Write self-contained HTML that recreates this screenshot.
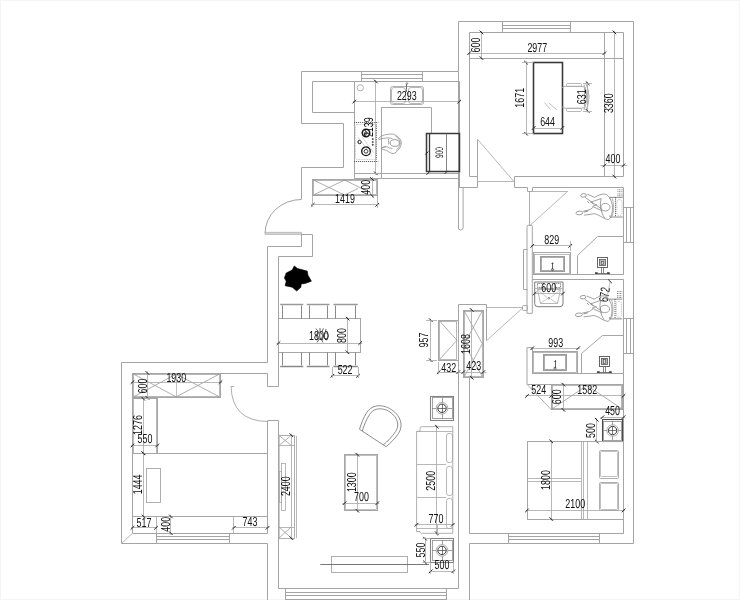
<!DOCTYPE html>
<html><head><meta charset="utf-8"><title>Floor plan</title>
<style>
html,body{margin:0;padding:0;background:#fff;}
body{width:740px;height:600px;overflow:hidden;}
svg{display:block;font-family:"Liberation Sans",sans-serif;filter:grayscale(1);}
text{text-rendering:geometricPrecision;}
</style></head><body>
<svg width="740" height="600" viewBox="0 0 740 600" shape-rendering="geometricPrecision">
<rect x="0" y="0" width="740" height="600" fill="#fff"/>
<rect x="0.5" y="0.5" width="739" height="599" fill="none" stroke="#f4f4f4" stroke-width="1"/>
<polyline points="301.5,123.5 301.5,71.5 458.5,71.5 458.5,21.5 633.5,21.5 633.5,543.5 469.5,543.5 469.5,600.5" fill="none" stroke="#a4a4a4" stroke-width="1"/>
<polyline points="477.5,176.5 469.5,176.5 469.5,32.5 623.5,32.5 623.5,176.5 514.5,176.5 514.5,187.5 527.5,187.5 527.5,191.5 532.5,191.5 532.5,187.5 623.5,187.5 623.5,274.5" fill="none" stroke="#a4a4a4" stroke-width="1"/>
<line x1="502.7" y1="25.5" x2="570.3" y2="25.5" stroke="#a4a4a4" stroke-width="1"/>
<line x1="502.7" y1="28.5" x2="570.3" y2="28.5" stroke="#a4a4a4" stroke-width="1"/>
<line x1="502.5" y1="21.6" x2="502.5" y2="32.4" stroke="#a4a4a4" stroke-width="1"/>
<line x1="570.5" y1="21.6" x2="570.5" y2="32.4" stroke="#a4a4a4" stroke-width="1"/>
<line x1="469.2" y1="58.5" x2="623.8" y2="58.5" stroke="#a6a6a6" stroke-width="1"/>
<line x1="604.5" y1="32.4" x2="604.5" y2="176.6" stroke="#a6a6a6" stroke-width="1"/>
<line x1="467.7" y1="53.5" x2="605.9" y2="53.5" stroke="#a6a6a6" stroke-width="0.8"/>
<line x1="467.4" y1="55.0" x2="471.0" y2="51.400000000000006" stroke="#222" stroke-width="1.0"/>
<line x1="602.6" y1="55.0" x2="606.1999999999999" y2="51.400000000000006" stroke="#222" stroke-width="1.0"/>
<line x1="614.5" y1="30.9" x2="614.5" y2="178.1" stroke="#a6a6a6" stroke-width="0.8"/>
<line x1="612.6" y1="30.599999999999998" x2="616.1999999999999" y2="34.199999999999996" stroke="#222" stroke-width="1.0"/>
<line x1="612.6" y1="174.79999999999998" x2="616.1999999999999" y2="178.4" stroke="#222" stroke-width="1.0"/>
<line x1="481.5" y1="30.9" x2="481.5" y2="59.6" stroke="#a6a6a6" stroke-width="0.8"/>
<line x1="479.59999999999997" y1="30.599999999999998" x2="483.2" y2="34.199999999999996" stroke="#222" stroke-width="1.0"/>
<line x1="479.59999999999997" y1="56.300000000000004" x2="483.2" y2="59.9" stroke="#222" stroke-width="1.0"/>
<text transform="translate(475 45) rotate(-90) scale(0.685 1)" text-anchor="middle" font-size="13" dy="0.36em" fill="#111">600</text>
<text transform="translate(537.3 47.3) rotate(0) scale(0.685 1)" text-anchor="middle" font-size="13" dy="0.36em" fill="#111">2977</text>
<text transform="translate(608.5 103.2) rotate(-90) scale(0.685 1)" text-anchor="middle" font-size="13" dy="0.36em" fill="#111">3360</text>
<line x1="600.4" y1="165.5" x2="627.3" y2="165.5" stroke="#a6a6a6" stroke-width="0.8"/>
<line x1="602.6" y1="167.20000000000002" x2="606.1999999999999" y2="163.6" stroke="#222" stroke-width="1.0"/>
<line x1="621.5" y1="167.20000000000002" x2="625.0999999999999" y2="163.6" stroke="#222" stroke-width="1.0"/>
<text transform="translate(613 158.6) rotate(0) scale(0.685 1)" text-anchor="middle" font-size="13" dy="0.36em" fill="#111">400</text>
<line x1="477.5" y1="139.5" x2="477.5" y2="187.3" stroke="#a4a4a4" stroke-width="1"/>
<line x1="477.7" y1="139.5" x2="513.5" y2="181" stroke="#a4a4a4" stroke-width="0.8"/>
<line x1="477.7" y1="181.5" x2="514.2" y2="181.5" stroke="#a4a4a4" stroke-width="0.8"/>
<polyline points="458.5,71.5 458.5,228.5" fill="none" stroke="#a4a4a4" stroke-width="1"/>
<line x1="458.4" y1="187.5" x2="477.7" y2="187.5" stroke="#a4a4a4" stroke-width="1"/>
<path d="M458.4 228 Q458.4 230 460.7 230 Q463.1 230 463.1 228 L463.1 187.3" fill="none" stroke="#a4a4a4" stroke-width="1" />
<rect x="533.5" y="62.5" width="29.0" height="71.0" rx="0" fill="none" stroke="#3a3a3a" stroke-width="1.6"/>
<line x1="526.5" y1="61.1" x2="526.5" y2="135.2" stroke="#a6a6a6" stroke-width="0.8"/>
<line x1="524.2" y1="60.800000000000004" x2="527.8" y2="64.4" stroke="#222" stroke-width="1.0"/>
<line x1="524.2" y1="131.89999999999998" x2="527.8" y2="135.5" stroke="#222" stroke-width="1.0"/>
<line x1="522" y1="62.5" x2="533.7" y2="62.5" stroke="#a6a6a6" stroke-width="0.8"/>
<line x1="522" y1="133.5" x2="533.7" y2="133.5" stroke="#a6a6a6" stroke-width="0.8"/>
<text transform="translate(519 97.8) rotate(-90) scale(0.685 1)" text-anchor="middle" font-size="13" dy="0.36em" fill="#111">1671</text>
<line x1="532.2" y1="128.5" x2="563.8" y2="128.5" stroke="#a6a6a6" stroke-width="0.8"/>
<line x1="531.9000000000001" y1="129.8" x2="535.5" y2="126.2" stroke="#222" stroke-width="1.0"/>
<line x1="560.5" y1="129.8" x2="564.0999999999999" y2="126.2" stroke="#222" stroke-width="1.0"/>
<text transform="translate(547.6 121.3) rotate(0) scale(0.685 1)" text-anchor="middle" font-size="13" dy="0.36em" fill="#111">644</text>
<line x1="544.4" y1="102.5" x2="550.5" y2="109.5" stroke="#a6a6a6" stroke-width="0.7"/>
<line x1="549" y1="103.2" x2="557.1" y2="110" stroke="#a6a6a6" stroke-width="0.7"/>
<path d="M562.3 88 Q562.3 86.3 565 86.3 L582 86.3 Q584.5 86.3 584.5 88 L584.5 106.5 Q584.5 108.2 582 108.2 L565 108.2 Q562.3 108.2 562.3 106.5" fill="none" stroke="#a6a6a6" stroke-width="0.9" />
<rect x="566.5" y="83.5" width="15.0" height="3.0" rx="1" fill="none" stroke="#a6a6a6" stroke-width="0.8"/>
<rect x="566.5" y="108.5" width="15.0" height="3.0" rx="1" fill="none" stroke="#a6a6a6" stroke-width="0.8"/>
<path d="M584 84.5 Q589.5 97 584 110" fill="none" stroke="#a6a6a6" stroke-width="0.9" />
<path d="M586 84 Q592 97 586 110.5" fill="none" stroke="#a6a6a6" stroke-width="0.9" />
<line x1="587.5" y1="81.8" x2="587.5" y2="112.5" stroke="#a6a6a6" stroke-width="0.8"/>
<line x1="585.9000000000001" y1="81.5" x2="589.5" y2="85.1" stroke="#222" stroke-width="1.0"/>
<line x1="585.9000000000001" y1="109.2" x2="589.5" y2="112.8" stroke="#222" stroke-width="1.0"/>
<line x1="583" y1="83.5" x2="592" y2="83.5" stroke="#a6a6a6" stroke-width="0.8"/>
<line x1="583" y1="111.5" x2="592" y2="111.5" stroke="#a6a6a6" stroke-width="0.8"/>
<text transform="translate(581 96.8) rotate(-90) scale(0.685 1)" text-anchor="middle" font-size="13" dy="0.36em" fill="#111">631</text>
<line x1="623.5" y1="187.5" x2="623.5" y2="187.5" stroke="#a4a4a4" stroke-width="1"/>
<line x1="623.8" y1="207.5" x2="633.8" y2="207.5" stroke="#a4a4a4" stroke-width="1"/>
<line x1="623.8" y1="242.5" x2="633.8" y2="242.5" stroke="#a4a4a4" stroke-width="1"/>
<line x1="626.5" y1="207.2" x2="626.5" y2="242.2" stroke="#a4a4a4" stroke-width="1"/>
<line x1="630.5" y1="207.2" x2="630.5" y2="242.2" stroke="#a4a4a4" stroke-width="1"/>
<line x1="623.8" y1="318.5" x2="633.8" y2="318.5" stroke="#a4a4a4" stroke-width="1"/>
<line x1="623.8" y1="353.5" x2="633.8" y2="353.5" stroke="#a4a4a4" stroke-width="1"/>
<line x1="626.5" y1="318.8" x2="626.5" y2="353.3" stroke="#a4a4a4" stroke-width="1"/>
<line x1="630.5" y1="318.8" x2="630.5" y2="353.3" stroke="#a4a4a4" stroke-width="1"/>
<line x1="529.5" y1="191.4" x2="529.5" y2="225.5" stroke="#a4a4a4" stroke-width="0.9"/>
<line x1="532.4" y1="191.5" x2="567.6" y2="191.5" stroke="#a4a4a4" stroke-width="0.8"/>
<line x1="567.6" y1="191.4" x2="529.9" y2="225.5" stroke="#a4a4a4" stroke-width="0.8"/>
<path d="M527 313.3 L527 226.5 Q527 225.3 528.2 225.3 L531 225.3 Q532.3 225.3 532.3 226.5 L532.3 313.3 Z" fill="none" stroke="#a4a4a4" stroke-width="1" />
<polyline points="527.5,249.5 523.5,249.5 523.5,289.5 527.5,289.5" fill="none" stroke="#a4a4a4" stroke-width="1"/>
<rect x="522.5" y="305.5" width="5.0" height="5.0" rx="1" fill="none" stroke="#a4a4a4" stroke-width="0.9"/>
<line x1="532.3" y1="274.5" x2="623.8" y2="274.5" stroke="#a4a4a4" stroke-width="1"/>
<line x1="532.3" y1="279.5" x2="623.8" y2="279.5" stroke="#a4a4a4" stroke-width="1"/>
<line x1="623.5" y1="279.8" x2="623.5" y2="373.4" stroke="#a4a4a4" stroke-width="1"/>
<rect x="533.5" y="252.5" width="37.0" height="22.0" rx="0" fill="none" stroke="#a6a6a6" stroke-width="1"/>
<rect x="534.5" y="254.5" width="35.0" height="19.0" rx="0" fill="none" stroke="#a6a6a6" stroke-width="0.8"/>
<rect x="540.5" y="256.5" width="24.0" height="15.0" rx="0" fill="none" stroke="#9a9a9a" stroke-width="1"/>
<rect x="541.5" y="257.5" width="22.0" height="13.0" rx="0" fill="none" stroke="#9a9a9a" stroke-width="0.8"/>
<line x1="552.5" y1="262.5" x2="552.5" y2="269.5" stroke="#3a3a3a" stroke-width="0.8"/>
<circle cx="552.5" cy="269.6" r="1.1" fill="none" stroke="#3a3a3a" stroke-width="0.7"/>
<line x1="551.3" y1="263.5" x2="553.7" y2="263.5" stroke="#3a3a3a" stroke-width="0.6"/>
<line x1="530.8" y1="245.5" x2="571.8" y2="245.5" stroke="#a6a6a6" stroke-width="0.8"/>
<line x1="530.5" y1="247.60000000000002" x2="534.0999999999999" y2="244.0" stroke="#222" stroke-width="1.0"/>
<line x1="568.5" y1="247.60000000000002" x2="572.0999999999999" y2="244.0" stroke="#222" stroke-width="1.0"/>
<line x1="570.5" y1="241" x2="570.5" y2="251" stroke="#a6a6a6" stroke-width="0.8"/>
<text transform="translate(551.7 239.2) rotate(0) scale(0.685 1)" text-anchor="middle" font-size="13" dy="0.36em" fill="#111">829</text>
<polyline points="577.5,274.5 577.5,255.5 597.5,236.5 623.5,236.5" fill="none" stroke="#a6a6a6" stroke-width="1"/>
<rect x="597.5" y="257.5" width="10.0" height="10.0" rx="0" fill="none" stroke="#555" stroke-width="0.9"/>
<rect x="599.5" y="259.5" width="6.0" height="6.0" rx="0" fill="#bbb" stroke="#555" stroke-width="0.8"/>
<rect x="601.5" y="261.5" width="2.0" height="3.0" rx="0" fill="#ddd" stroke="#444" stroke-width="0.6"/>
<line x1="601.5" y1="267.5" x2="601.5" y2="273.4" stroke="#555" stroke-width="0.7"/>
<line x1="603.5" y1="267.5" x2="603.5" y2="273.4" stroke="#555" stroke-width="0.7"/>
<line x1="595.1" y1="273.5" x2="610.1" y2="273.5" stroke="#555" stroke-width="0.8"/>
<rect x="595.5" y="272.5" width="2.0" height="1.0" rx="0" fill="#222" stroke="#222" stroke-width="0.3"/>
<rect x="607.5" y="272.5" width="2.0" height="1.0" rx="0" fill="#222" stroke="#222" stroke-width="0.3"/>
<rect x="599.5" y="356.5" width="10.0" height="10.0" rx="0" fill="none" stroke="#555" stroke-width="0.9"/>
<rect x="601.5" y="358.5" width="6.0" height="6.0" rx="0" fill="#bbb" stroke="#555" stroke-width="0.8"/>
<rect x="603.5" y="359.5" width="2.0" height="4.0" rx="0" fill="#ddd" stroke="#444" stroke-width="0.6"/>
<line x1="603.5" y1="366.29999999999995" x2="603.5" y2="372.6" stroke="#555" stroke-width="0.7"/>
<line x1="605.5" y1="366.29999999999995" x2="605.5" y2="372.6" stroke="#555" stroke-width="0.7"/>
<line x1="596.8" y1="372.5" x2="611.8" y2="372.5" stroke="#555" stroke-width="0.8"/>
<rect x="597.5" y="371.5" width="2.0" height="1.0" rx="0" fill="#222" stroke="#222" stroke-width="0.3"/>
<rect x="609.5" y="371.5" width="2.0" height="1.0" rx="0" fill="#222" stroke="#222" stroke-width="0.3"/>
<path d="M527 384.4 L527 347.6 L532.5 347.6 L532.5 373.4" fill="none" stroke="#a4a4a4" stroke-width="1" />
<line x1="532.5" y1="373.5" x2="623.8" y2="373.5" stroke="#a4a4a4" stroke-width="1"/>
<rect x="532.5" y="351.5" width="45.0" height="22.0" rx="0" fill="none" stroke="#a6a6a6" stroke-width="1"/>
<rect x="533.5" y="352.5" width="43.0" height="20.0" rx="0" fill="none" stroke="#a6a6a6" stroke-width="0.8"/>
<rect x="543.5" y="354.5" width="23.0" height="16.0" rx="0" fill="none" stroke="#9a9a9a" stroke-width="1"/>
<rect x="544.5" y="355.5" width="21.0" height="14.0" rx="0" fill="none" stroke="#9a9a9a" stroke-width="0.8"/>
<line x1="555.5" y1="360" x2="555.5" y2="368" stroke="#3a3a3a" stroke-width="0.8"/>
<circle cx="555" cy="368.2" r="1.1" fill="none" stroke="#3a3a3a" stroke-width="0.7"/>
<line x1="553.8" y1="361.5" x2="556.2" y2="361.5" stroke="#3a3a3a" stroke-width="0.6"/>
<line x1="530.8" y1="348.5" x2="579.7" y2="348.5" stroke="#a6a6a6" stroke-width="0.8"/>
<line x1="530.5" y1="350.0" x2="534.0999999999999" y2="346.4" stroke="#222" stroke-width="1.0"/>
<line x1="576.4000000000001" y1="350.0" x2="580.0" y2="346.4" stroke="#222" stroke-width="1.0"/>
<text transform="translate(555.7 342.2) rotate(0) scale(0.685 1)" text-anchor="middle" font-size="13" dy="0.36em" fill="#111">993</text>
<polyline points="581.5,373.5 581.5,353.5 602.5,335.5 623.5,335.5" fill="none" stroke="#a6a6a6" stroke-width="1"/>
<path d="M534.7 282 L563 282 L563 303.7 Q563 306.7 560 306.7 L537.7 306.7 Q534.7 306.7 534.7 303.7 Z" fill="none" stroke="#7a7a7a" stroke-width="1" />
<line x1="534.7" y1="288.5" x2="563" y2="288.5" stroke="#a6a6a6" stroke-width="0.8"/>
<polygon points="537.5,289.5 560.5,289.5 557.5,303.5 540.5,303.5" fill="none" stroke="#a6a6a6" stroke-width="0.8"/>
<line x1="537" y1="289.5" x2="547" y2="297.5" stroke="#a6a6a6" stroke-width="0.6"/>
<line x1="560.7" y1="289.5" x2="550.6" y2="297.5" stroke="#a6a6a6" stroke-width="0.6"/>
<line x1="540.2" y1="303.5" x2="547" y2="299" stroke="#a6a6a6" stroke-width="0.6"/>
<line x1="557.5" y1="303.5" x2="550.6" y2="299" stroke="#a6a6a6" stroke-width="0.6"/>
<circle cx="548.8" cy="298.3" r="0.9" fill="none" stroke="#444" stroke-width="0.6"/>
<rect x="537.5" y="283.5" width="6.0" height="4.0" rx="0" fill="none" stroke="#444" stroke-width="0.7" stroke-dasharray="1 0.7"/>
<rect x="554.5" y="283.5" width="6.0" height="4.0" rx="0" fill="none" stroke="#444" stroke-width="0.7" stroke-dasharray="1 0.7"/>
<line x1="533.7" y1="293.5" x2="564" y2="293.5" stroke="#a6a6a6" stroke-width="0.8"/>
<line x1="532.9000000000001" y1="295.3" x2="536.5" y2="291.7" stroke="#222" stroke-width="1.0"/>
<line x1="561.2" y1="295.3" x2="564.8" y2="291.7" stroke="#222" stroke-width="1.0"/>
<text transform="translate(548.7 287.6) rotate(0) scale(0.685 1)" text-anchor="middle" font-size="13" dy="0.36em" fill="#111">600</text>
<text transform="translate(604.2 294.6) rotate(-82) scale(0.685 1)" text-anchor="middle" font-size="13" dy="0.36em" fill="#111">672</text>
<line x1="610.3" y1="281" x2="606.5" y2="300" stroke="#a6a6a6" stroke-width="0.7"/>
<line x1="608.2" y1="279.5" x2="611.8" y2="283.1" stroke="#222" stroke-width="1.0"/>
<line x1="486.6" y1="307.5" x2="522.5" y2="307.5" stroke="#a4a4a4" stroke-width="0.8"/>
<line x1="522.5" y1="308" x2="486.6" y2="340.6" stroke="#a4a4a4" stroke-width="0.8"/>
<g transform="translate(572 186) scale(0.07576)" fill="none" stroke="#7c7c7c" stroke-width="9.5"><path d="M500 150 L670 150 M500 410 L670 410" stroke="#666" stroke-width="10"/><path d="M575 150 L575 410" stroke="#333" stroke-width="11" stroke-dasharray="14 12"/><rect x="592" y="180" width="68" height="210" rx="30" stroke="#aaa" stroke-dasharray="16 12"/><path d="M500 150 L500 170 M500 410 L500 385" stroke="#888"/><path d="M530 160 C555 230 555 330 530 400" stroke="#999"/><path d="M600 50 L670 50 M600 75 L670 75 M600 105 L670 105 M600 128 L670 128" stroke="#555" stroke-width="10" stroke-dasharray="12 9"/><path d="M300 150 C340 120 400 100 440 108 C490 120 530 200 535 280 C535 350 520 420 485 442 C450 448 400 410 350 385 L300 365"/><path d="M300 150 L200 108 M175 150 L250 205 L285 245 M300 365 L160 385 M140 335 L240 312 L285 275"/><ellipse cx="152" cy="124" rx="38" ry="23" transform="rotate(-8 152 124)"/><ellipse cx="97" cy="356" rx="45" ry="24" transform="rotate(-5 97 356)"/><path d="M385 165 L245 215 M385 165 C375 210 372 250 385 300 M250 205 L385 300 M270 270 L330 245 M385 300 C390 340 400 380 430 420 M285 275 L400 330"/><ellipse cx="440" cy="280" rx="62" ry="50"/><path d="M205 200 L225 225 M160 345 L215 330" stroke="#666"/></g>
<g transform="translate(571.5 287.8) scale(0.07576)" fill="none" stroke="#7c7c7c" stroke-width="9.5"><path d="M500 150 L670 150 M500 410 L670 410" stroke="#666" stroke-width="10"/><path d="M575 150 L575 410" stroke="#333" stroke-width="11" stroke-dasharray="14 12"/><rect x="592" y="180" width="68" height="210" rx="30" stroke="#aaa" stroke-dasharray="16 12"/><path d="M500 150 L500 170 M500 410 L500 385" stroke="#888"/><path d="M530 160 C555 230 555 330 530 400" stroke="#999"/><path d="M600 50 L670 50 M600 75 L670 75 M600 105 L670 105 M600 128 L670 128" stroke="#555" stroke-width="10" stroke-dasharray="12 9"/><path d="M300 150 C340 120 400 100 440 108 C490 120 530 200 535 280 C535 350 520 420 485 442 C450 448 400 410 350 385 L300 365"/><path d="M300 150 L200 108 M175 150 L250 205 L285 245 M300 365 L160 385 M140 335 L240 312 L285 275"/><ellipse cx="152" cy="124" rx="38" ry="23" transform="rotate(-8 152 124)"/><ellipse cx="97" cy="356" rx="45" ry="24" transform="rotate(-5 97 356)"/><path d="M385 165 L245 215 M385 165 C375 210 372 250 385 300 M250 205 L385 300 M270 270 L330 245 M385 300 C390 340 400 380 430 420 M285 275 L400 330"/><ellipse cx="440" cy="280" rx="62" ry="50"/><path d="M205 200 L225 225 M160 345 L215 330" stroke="#666"/></g>
<polyline points="354.5,81.5 459.5,81.5 459.5,187.5" fill="none" stroke="#a4a4a4" stroke-width="1"/>
<line x1="361" y1="74.5" x2="422.7" y2="74.5" stroke="#a4a4a4" stroke-width="1"/>
<line x1="361" y1="78.5" x2="422.7" y2="78.5" stroke="#a4a4a4" stroke-width="1"/>
<line x1="361.5" y1="71.3" x2="361.5" y2="81.5" stroke="#a4a4a4" stroke-width="1"/>
<line x1="422.5" y1="71.3" x2="422.5" y2="81.5" stroke="#a4a4a4" stroke-width="1"/>
<polyline points="301.5,123.5 343.5,123.5 343.5,167.5 301.5,167.5 301.5,199.5" fill="none" stroke="#a4a4a4" stroke-width="1"/>
<polyline points="354.5,81.5 312.5,81.5 312.5,112.5 354.5,112.5" fill="none" stroke="#a4a4a4" stroke-width="1"/>
<line x1="354.5" y1="81.5" x2="354.5" y2="178.5" stroke="#a6a6a6" stroke-width="1"/>
<line x1="381.5" y1="101.5" x2="381.5" y2="101.5" stroke="#a4a4a4" stroke-width="1"/>
<line x1="352.8" y1="101.5" x2="460.7" y2="101.5" stroke="#a6a6a6" stroke-width="0.8"/>
<line x1="352.5" y1="103.39999999999999" x2="356.1" y2="99.8" stroke="#222" stroke-width="1.0"/>
<line x1="457.4" y1="103.39999999999999" x2="461.0" y2="99.8" stroke="#222" stroke-width="1.0"/>
<line x1="375.5" y1="80.0" x2="375.5" y2="174.8" stroke="#a6a6a6" stroke-width="0.8"/>
<line x1="374.0" y1="79.7" x2="377.6" y2="83.3" stroke="#222" stroke-width="1.0"/>
<line x1="374.0" y1="171.5" x2="377.6" y2="175.10000000000002" stroke="#222" stroke-width="1.0"/>
<line x1="381.5" y1="107.3" x2="381.5" y2="178.5" stroke="#a6a6a6" stroke-width="1"/>
<line x1="381.2" y1="107.5" x2="431.2" y2="107.5" stroke="#a6a6a6" stroke-width="1"/>
<line x1="431.5" y1="107.3" x2="431.5" y2="133.6" stroke="#a6a6a6" stroke-width="1"/>
<line x1="354.3" y1="173.5" x2="458.4" y2="173.5" stroke="#a6a6a6" stroke-width="1"/>
<line x1="354.3" y1="178.5" x2="458.4" y2="178.5" stroke="#a6a6a6" stroke-width="1"/>
<circle cx="360.3" cy="87.8" r="3.1" fill="none" stroke="#a6a6a6" stroke-width="0.9"/>
<rect x="390.5" y="86.5" width="33.0" height="18.0" rx="2" fill="none" stroke="#a6a6a6" stroke-width="0.9"/>
<rect x="391.5" y="87.5" width="14.0" height="16.0" rx="2.5" fill="none" stroke="#a6a6a6" stroke-width="0.8"/>
<rect x="408.5" y="87.5" width="14.0" height="16.0" rx="2.5" fill="none" stroke="#a6a6a6" stroke-width="0.8"/>
<line x1="406.5" y1="84" x2="406.5" y2="92" stroke="#555" stroke-width="0.8"/>
<circle cx="406.9" cy="83.6" r="0.9" fill="none" stroke="#555" stroke-width="0.6"/>
<text transform="translate(406.8 95.5) rotate(0) scale(0.685 1)" text-anchor="middle" font-size="13" dy="0.36em" fill="#111">2293</text>
<rect x="426.5" y="133.5" width="33.0" height="38.0" rx="0" fill="none" stroke="#3a3a3a" stroke-width="1.5"/>
<line x1="429.5" y1="133.5" x2="429.5" y2="171.7" stroke="#3a3a3a" stroke-width="1.3"/>
<line x1="446.5" y1="133.5" x2="446.5" y2="171.7" stroke="#666" stroke-width="0.8"/>
<text transform="translate(438.8 152.5) rotate(-90) scale(0.62 1)" text-anchor="middle" font-size="10.8" dy="0.36em" fill="#111">900</text>
<line x1="425.3" y1="154.5" x2="428.3" y2="151.5" stroke="#222" stroke-width="1.0"/>
<line x1="444.7" y1="173.8" x2="447.7" y2="170.8" stroke="#222" stroke-width="1.0"/>
<line x1="426.5" y1="174.8" x2="429.5" y2="171.8" stroke="#222" stroke-width="1.0"/>
<line x1="354.1" y1="122.5" x2="378.4" y2="122.5" stroke="#444" stroke-width="0.9" stroke-dasharray="1.1 0.9"/>
<line x1="354.1" y1="161.5" x2="378.4" y2="161.5" stroke="#444" stroke-width="0.9" stroke-dasharray="1.1 0.9"/>
<line x1="376.5" y1="124.5" x2="376.5" y2="159.5" stroke="#555" stroke-width="0.9" stroke-dasharray="0.9 0.9"/>
<rect x="355.5" y="124.5" width="20.0" height="35.0" rx="1.5" fill="none" stroke="#aaa" stroke-width="0.7" stroke-dasharray="0.8 0.8"/>
<circle cx="366" cy="133" r="3.7" fill="none" stroke="#1a1a1a" stroke-width="1.6"/>
<circle cx="366" cy="133" r="1.3" fill="none" stroke="#222" stroke-width="0.8"/>
<circle cx="366" cy="151.3" r="4.3" fill="none" stroke="#1a1a1a" stroke-width="1.4"/>
<circle cx="366" cy="151.3" r="1.9" fill="none" stroke="#222" stroke-width="0.9"/>
<circle cx="359.6" cy="142" r="1.7" fill="none" stroke="#111" stroke-width="1.0"/>
<circle cx="372.8" cy="139" r="0.6" fill="#111" stroke="#111" stroke-width="0.5"/>
<circle cx="372.8" cy="142" r="0.6" fill="#111" stroke="#111" stroke-width="0.5"/>
<circle cx="372.8" cy="144.8" r="0.6" fill="#111" stroke="#111" stroke-width="0.5"/>
<line x1="358" y1="137" x2="372" y2="156" stroke="#bbb" stroke-width="0.6"/>
<line x1="362" y1="137" x2="374" y2="153" stroke="#bbb" stroke-width="0.6"/>
<text transform="translate(368.3 127.2) rotate(-90) scale(0.685 1)" text-anchor="middle" font-size="13" dy="0.36em" fill="#111">2139</text>
<g transform="translate(372 128) scale(0.05)" fill="none" stroke="#8c8c8c" stroke-width="15"><path d="M120 215 L190 160 C260 130 340 115 430 125 C480 145 540 180 575 240 C600 300 580 380 540 420 C500 470 460 510 420 512 C370 505 320 470 290 445 L195 425 L190 395 L280 365"/><path d="M130 235 L200 210 L330 195 L410 212 M330 215 L335 330 M200 395 L300 372 L345 400 L410 408 M470 160 C520 190 560 240 565 300 C560 360 520 420 480 450"/><ellipse cx="455" cy="300" rx="92" ry="66" stroke="#777"/></g>
<rect x="312.5" y="179.5" width="65.0" height="16.0" rx="0" fill="none" stroke="#a6a6a6" stroke-width="1"/>
<rect x="313.5" y="180.5" width="63.0" height="14.0" rx="0" fill="none" stroke="#a6a6a6" stroke-width="0.8"/>
<line x1="313.5" y1="180" x2="344.5" y2="195" stroke="#8c8c8c" stroke-width="0.7"/>
<line x1="313.5" y1="195" x2="344.5" y2="180" stroke="#8c8c8c" stroke-width="0.7"/>
<line x1="344.5" y1="180" x2="371" y2="193" stroke="#8c8c8c" stroke-width="0.7"/>
<line x1="344.5" y1="195" x2="358" y2="188.5" stroke="#8c8c8c" stroke-width="0.7"/>
<line x1="372.5" y1="177" x2="372.5" y2="197.6" stroke="#a6a6a6" stroke-width="0.8"/>
<line x1="370.2" y1="177.2" x2="373.8" y2="180.8" stroke="#222" stroke-width="1.0"/>
<line x1="370.2" y1="193.79999999999998" x2="373.8" y2="197.4" stroke="#222" stroke-width="1.0"/>
<text transform="translate(365.4 187.3) rotate(-90) scale(0.685 1)" text-anchor="middle" font-size="13" dy="0.36em" fill="#111">400</text>
<line x1="310.7" y1="204.5" x2="379.2" y2="204.5" stroke="#a6a6a6" stroke-width="0.8"/>
<line x1="310.9" y1="206.60000000000002" x2="314.5" y2="203.0" stroke="#222" stroke-width="1.0"/>
<line x1="375.4" y1="206.60000000000002" x2="379.0" y2="203.0" stroke="#222" stroke-width="1.0"/>
<line x1="312.5" y1="195.6" x2="312.5" y2="207" stroke="#a6a6a6" stroke-width="0.8"/>
<line x1="377.5" y1="195.6" x2="377.5" y2="208" stroke="#a6a6a6" stroke-width="0.8"/>
<text transform="translate(345 198.6) rotate(0) scale(0.685 1)" text-anchor="middle" font-size="13" dy="0.36em" fill="#111">1419</text>
<path d="M301.3 199.5 A36.2 33.7 0 0 0 265.1 233.2" fill="none" stroke="#8a8a8a" stroke-width="0.8" />
<rect x="265" y="232.2" width="36.5" height="2.3" fill="#d4d4d4" stroke="#a8a8a8" stroke-width="0.6"/>
<polyline points="301.5,233.5 301.5,246.5 267.5,246.5 267.5,362.5 121.5,362.5 121.5,543.5 267.5,543.5 267.5,600.5" fill="none" stroke="#a4a4a4" stroke-width="1"/>
<polyline points="301.5,234.5 312.5,234.5 312.5,256.5 278.5,256.5 278.5,386.5 267.5,386.5 267.5,373.5 132.5,373.5 132.5,533.5 267.5,533.5 267.5,420.5 278.5,420.5 278.5,588.5 458.5,588.5" fill="none" stroke="#a4a4a4" stroke-width="1"/>
<line x1="250.5" y1="373.5" x2="250.5" y2="373.5" stroke="#a4a4a4" stroke-width="1"/>
<path d="M231.1 386.5 Q232 421 267.6 421.5" fill="none" stroke="#a4a4a4" stroke-width="0.9" />
<line x1="231.1" y1="386.5" x2="234" y2="386.5" stroke="#a4a4a4" stroke-width="0.9"/>
<line x1="285.5" y1="592.5" x2="446" y2="592.5" stroke="#a4a4a4" stroke-width="1"/>
<line x1="285.5" y1="595.5" x2="446" y2="595.5" stroke="#a4a4a4" stroke-width="1"/>
<line x1="285.5" y1="599.5" x2="446" y2="599.5" stroke="#a4a4a4" stroke-width="1"/>
<line x1="285.5" y1="588.6" x2="285.5" y2="600" stroke="#a4a4a4" stroke-width="1"/>
<line x1="446.5" y1="588.6" x2="446.5" y2="600" stroke="#a4a4a4" stroke-width="1"/>
<line x1="156" y1="536.5" x2="229.7" y2="536.5" stroke="#a4a4a4" stroke-width="1"/>
<line x1="156" y1="539.5" x2="229.7" y2="539.5" stroke="#a4a4a4" stroke-width="1"/>
<line x1="156.5" y1="533.2" x2="156.5" y2="543.4" stroke="#a4a4a4" stroke-width="1"/>
<line x1="229.5" y1="533.2" x2="229.5" y2="543.4" stroke="#a4a4a4" stroke-width="1"/>
<line x1="121.6" y1="543.4" x2="132.5" y2="533.2" stroke="#a4a4a4" stroke-width="0.8"/>
<line x1="469.2" y1="533.5" x2="623.8" y2="533.5" stroke="#a4a4a4" stroke-width="1"/>
<line x1="508.4" y1="536.5" x2="599.5" y2="536.5" stroke="#a4a4a4" stroke-width="1"/>
<line x1="508.4" y1="539.5" x2="599.5" y2="539.5" stroke="#a4a4a4" stroke-width="1"/>
<line x1="508.5" y1="533.2" x2="508.5" y2="543.4" stroke="#a4a4a4" stroke-width="1"/>
<line x1="599.5" y1="533.2" x2="599.5" y2="543.4" stroke="#a4a4a4" stroke-width="1"/>
<polyline points="458.5,588.5 458.5,304.5 486.5,304.5 486.5,340.5" fill="none" stroke="#a4a4a4" stroke-width="1"/>
<line x1="469.5" y1="378" x2="469.5" y2="533.2" stroke="#a4a4a4" stroke-width="1"/>
<line x1="457.5" y1="533.5" x2="457.5" y2="533.5" stroke="#a4a4a4" stroke-width="1"/>
<polyline points="527.5,384.5 623.5,384.5" fill="none" stroke="#a4a4a4" stroke-width="1"/>
<line x1="623.5" y1="373.4" x2="623.5" y2="533.2" stroke="#a4a4a4" stroke-width="1"/>
<rect x="463.5" y="310.5" width="20.0" height="67.0" rx="0" fill="none" stroke="#a6a6a6" stroke-width="1"/>
<rect x="464.5" y="311.5" width="18.0" height="65.0" rx="0" fill="none" stroke="#a6a6a6" stroke-width="0.8"/>
<line x1="464.3" y1="311" x2="482.3" y2="343.8" stroke="#8c8c8c" stroke-width="0.7"/>
<line x1="464.3" y1="343.8" x2="482.3" y2="311" stroke="#8c8c8c" stroke-width="0.7"/>
<line x1="464.3" y1="343.8" x2="482.3" y2="376.6" stroke="#8c8c8c" stroke-width="0.7"/>
<line x1="464.3" y1="376.6" x2="482.3" y2="343.8" stroke="#8c8c8c" stroke-width="0.7"/>
<line x1="471.5" y1="308.5" x2="471.5" y2="379.1" stroke="#a6a6a6" stroke-width="0.8"/>
<line x1="469.9" y1="308.2" x2="473.5" y2="311.8" stroke="#222" stroke-width="1.0"/>
<line x1="469.9" y1="375.8" x2="473.5" y2="379.40000000000003" stroke="#222" stroke-width="1.0"/>
<text transform="translate(465.2 344) rotate(-90) scale(0.685 1)" text-anchor="middle" font-size="13" dy="0.36em" fill="#111">1608</text>
<text transform="translate(473.8 365.2) rotate(0) scale(0.685 1)" text-anchor="middle" font-size="13" dy="0.36em" fill="#111">423</text>
<rect x="438.5" y="320.5" width="20.0" height="40.0" rx="0" fill="none" stroke="#a6a6a6" stroke-width="1"/>
<rect x="439.5" y="321.5" width="17.0" height="38.0" rx="0" fill="none" stroke="#a6a6a6" stroke-width="0.8"/>
<line x1="439.8" y1="321.3" x2="457" y2="340.2" stroke="#8c8c8c" stroke-width="0.7"/>
<line x1="439.8" y1="359.2" x2="457" y2="340.2" stroke="#8c8c8c" stroke-width="0.7"/>
<line x1="430.5" y1="318.7" x2="430.5" y2="361.8" stroke="#a6a6a6" stroke-width="0.8"/>
<line x1="429.0" y1="318.4" x2="432.6" y2="322.0" stroke="#222" stroke-width="1.0"/>
<line x1="429.0" y1="358.5" x2="432.6" y2="362.1" stroke="#222" stroke-width="1.0"/>
<line x1="426" y1="320.5" x2="437" y2="320.5" stroke="#a6a6a6" stroke-width="0.8"/>
<line x1="426" y1="360.5" x2="437" y2="360.5" stroke="#a6a6a6" stroke-width="0.8"/>
<text transform="translate(423.2 340) rotate(-90) scale(0.685 1)" text-anchor="middle" font-size="13" dy="0.36em" fill="#111">957</text>
<text transform="translate(448.7 367.5) rotate(0) scale(0.685 1)" text-anchor="middle" font-size="13" dy="0.36em" fill="#111">432</text>
<line x1="437.2" y1="372.5" x2="486.5" y2="372.5" stroke="#a6a6a6" stroke-width="0.8"/>
<line x1="436.9" y1="373.90000000000003" x2="440.5" y2="370.3" stroke="#222" stroke-width="1.0"/>
<line x1="456.5" y1="373.90000000000003" x2="460.1" y2="370.3" stroke="#222" stroke-width="1.0"/>
<line x1="461.5" y1="373.90000000000003" x2="465.1" y2="370.3" stroke="#222" stroke-width="1.0"/>
<line x1="481.5" y1="373.90000000000003" x2="485.1" y2="370.3" stroke="#222" stroke-width="1.0"/>
<line x1="438.5" y1="362" x2="438.5" y2="374.5" stroke="#a6a6a6" stroke-width="0.8"/>
<line x1="458.5" y1="362" x2="458.5" y2="374.5" stroke="#a6a6a6" stroke-width="0.8"/>
<rect x="278.5" y="318.5" width="82.0" height="34.0" rx="0" fill="none" stroke="#a6a6a6" stroke-width="1"/>
<line x1="280.2" y1="304.5" x2="303.3" y2="304.5" stroke="#999" stroke-width="1.5"/>
<line x1="282.5" y1="305.5" x2="282.5" y2="318.6" stroke="#8a8a8a" stroke-width="1"/>
<line x1="301.5" y1="305.5" x2="301.5" y2="318.6" stroke="#8a8a8a" stroke-width="1"/>
<line x1="280.2" y1="366.5" x2="303.3" y2="366.5" stroke="#888" stroke-width="1.5"/>
<line x1="282.5" y1="352.3" x2="282.5" y2="365.4" stroke="#8a8a8a" stroke-width="1"/>
<line x1="301.5" y1="352.3" x2="301.5" y2="365.4" stroke="#8a8a8a" stroke-width="1"/>
<line x1="306.8" y1="304.5" x2="329.5" y2="304.5" stroke="#999" stroke-width="1.5"/>
<line x1="309.5" y1="305.5" x2="309.5" y2="318.6" stroke="#8a8a8a" stroke-width="1"/>
<line x1="327.5" y1="305.5" x2="327.5" y2="318.6" stroke="#8a8a8a" stroke-width="1"/>
<line x1="306.8" y1="366.5" x2="329.5" y2="366.5" stroke="#888" stroke-width="1.5"/>
<line x1="309.5" y1="352.3" x2="309.5" y2="365.4" stroke="#8a8a8a" stroke-width="1"/>
<line x1="327.5" y1="352.3" x2="327.5" y2="365.4" stroke="#8a8a8a" stroke-width="1"/>
<line x1="333.5" y1="304.5" x2="357.8" y2="304.5" stroke="#999" stroke-width="1.5"/>
<line x1="335.5" y1="305.5" x2="335.5" y2="318.6" stroke="#8a8a8a" stroke-width="1"/>
<line x1="355.5" y1="305.5" x2="355.5" y2="318.6" stroke="#8a8a8a" stroke-width="1"/>
<line x1="333.5" y1="366.5" x2="357.8" y2="366.5" stroke="#888" stroke-width="1.5"/>
<line x1="335.5" y1="352.3" x2="335.5" y2="365.4" stroke="#8a8a8a" stroke-width="1"/>
<line x1="355.5" y1="352.3" x2="355.5" y2="365.4" stroke="#8a8a8a" stroke-width="1"/>
<line x1="276.5" y1="343.5" x2="362.2" y2="343.5" stroke="#a6a6a6" stroke-width="0.8"/>
<line x1="276.7" y1="344.90000000000003" x2="280.3" y2="341.3" stroke="#222" stroke-width="1.0"/>
<line x1="358.4" y1="344.90000000000003" x2="362.0" y2="341.3" stroke="#222" stroke-width="1.0"/>
<line x1="347.5" y1="317.1" x2="347.5" y2="353.8" stroke="#a6a6a6" stroke-width="0.8"/>
<line x1="345.8" y1="316.8" x2="349.40000000000003" y2="320.40000000000003" stroke="#222" stroke-width="1.0"/>
<line x1="345.8" y1="350.5" x2="349.40000000000003" y2="354.1" stroke="#222" stroke-width="1.0"/>
<text transform="translate(318.9 335.5) rotate(0) scale(0.685 1)" text-anchor="middle" font-size="13" dy="0.36em" fill="#111">1800</text>
<text transform="translate(341 335.5) rotate(-90) scale(0.685 1)" text-anchor="middle" font-size="13" dy="0.36em" fill="#111">800</text>
<g fill="none" stroke="#222" stroke-width="0.7"><ellipse cx="319.5" cy="335.8" rx="3.0" ry="3.4"/><ellipse cx="326" cy="335.8" rx="2.4" ry="3"/><path d="M316 328.5 L318.5 332 M320 328 L320 331.5 M323.5 328.3 L321.5 332 M317 342.5 L319 339.5 M323 342.5 L321.5 339.5 M326 329 L325.5 332"/></g>
<line x1="330.9" y1="375.5" x2="359.5" y2="375.5" stroke="#a6a6a6" stroke-width="0.8"/>
<line x1="330.59999999999997" y1="377.6" x2="334.2" y2="374.0" stroke="#222" stroke-width="1.0"/>
<line x1="356.2" y1="377.6" x2="359.8" y2="374.0" stroke="#222" stroke-width="1.0"/>
<line x1="332.5" y1="367" x2="332.5" y2="378" stroke="#a6a6a6" stroke-width="0.8"/>
<line x1="358.5" y1="367" x2="358.5" y2="378" stroke="#a6a6a6" stroke-width="0.8"/>
<text transform="translate(345.1 369.2) rotate(0) scale(0.685 1)" text-anchor="middle" font-size="13" dy="0.36em" fill="#111">522</text>
<polygon points="294.3,265.9 297.5,268.5 307.2,271.1 308,275.2 311.4,281.2 305,283.5 301.2,283.9 300.9,287.2 296.7,291 292.2,287.2 285.1,285.7 286.2,281.2 284.4,277.9 286.2,273 292.2,270" fill="#000" stroke="#000" stroke-width="0.6"/>
<rect x="430.5" y="396.5" width="23.0" height="24.0" rx="0" fill="none" stroke="#858585" stroke-width="1.1"/>
<rect x="432.5" y="397.5" width="20.0" height="21.0" rx="0" fill="none" stroke="#999" stroke-width="0.9"/>
<circle cx="442.0" cy="408.3" r="5.8" fill="none" stroke="#999" stroke-width="0.8"/>
<circle cx="442.0" cy="408.3" r="4.2" fill="none" stroke="#3a3a3a" stroke-width="1.0"/>
<line x1="442.5" y1="404.1" x2="442.5" y2="412.5" stroke="#444" stroke-width="0.7"/>
<line x1="437.8" y1="408.5" x2="446.2" y2="408.5" stroke="#444" stroke-width="0.7"/>
<line x1="442.5" y1="397.90000000000003" x2="442.5" y2="402.5" stroke="#777" stroke-width="0.7"/>
<line x1="442.5" y1="414.1" x2="442.5" y2="418.7" stroke="#777" stroke-width="0.7"/>
<line x1="432.0" y1="408.5" x2="436.2" y2="408.5" stroke="#777" stroke-width="0.7"/>
<line x1="447.8" y1="408.5" x2="452.0" y2="408.5" stroke="#777" stroke-width="0.7"/>
<rect x="430.5" y="538.5" width="23.0" height="24.0" rx="0" fill="none" stroke="#858585" stroke-width="1.1"/>
<rect x="432.5" y="540.5" width="20.0" height="20.0" rx="0" fill="none" stroke="#999" stroke-width="0.9"/>
<circle cx="442.0" cy="550.45" r="5.8" fill="none" stroke="#999" stroke-width="0.8"/>
<circle cx="442.0" cy="550.45" r="4.2" fill="none" stroke="#3a3a3a" stroke-width="1.0"/>
<line x1="442.5" y1="546.25" x2="442.5" y2="554.6500000000001" stroke="#444" stroke-width="0.7"/>
<line x1="437.8" y1="550.5" x2="446.2" y2="550.5" stroke="#444" stroke-width="0.7"/>
<line x1="442.5" y1="540.0" x2="442.5" y2="544.6500000000001" stroke="#777" stroke-width="0.7"/>
<line x1="442.5" y1="556.25" x2="442.5" y2="560.9000000000001" stroke="#777" stroke-width="0.7"/>
<line x1="432.0" y1="550.5" x2="436.2" y2="550.5" stroke="#777" stroke-width="0.7"/>
<line x1="447.8" y1="550.5" x2="452.0" y2="550.5" stroke="#777" stroke-width="0.7"/>
<rect x="602.5" y="419.5" width="20.0" height="22.0" rx="0" fill="none" stroke="#4a4a4a" stroke-width="1.1"/>
<rect x="603.5" y="421.5" width="18.0" height="19.0" rx="0" fill="none" stroke="#999" stroke-width="0.9"/>
<circle cx="612.5999999999999" cy="430.54999999999995" r="5.8" fill="none" stroke="#999" stroke-width="0.8"/>
<circle cx="612.5999999999999" cy="430.54999999999995" r="4.2" fill="none" stroke="#3a3a3a" stroke-width="1.0"/>
<line x1="612.5" y1="426.34999999999997" x2="612.5" y2="434.74999999999994" stroke="#444" stroke-width="0.7"/>
<line x1="608.3999999999999" y1="430.5" x2="616.8" y2="430.5" stroke="#444" stroke-width="0.7"/>
<line x1="612.5" y1="421.0" x2="612.5" y2="424.74999999999994" stroke="#777" stroke-width="0.7"/>
<line x1="612.5" y1="436.34999999999997" x2="612.5" y2="440.09999999999997" stroke="#777" stroke-width="0.7"/>
<line x1="603.6999999999999" y1="430.5" x2="606.8" y2="430.5" stroke="#777" stroke-width="0.7"/>
<line x1="618.3999999999999" y1="430.5" x2="621.5" y2="430.5" stroke="#777" stroke-width="0.7"/>
<path d="M421.5 426.7 L452.8 426.7 L452.8 533.3 L421.5 533.3 Q420 533.3 420 531.5 L416.6 531.5 L416.6 431.3 L420 431.3 L420 428.5 Q420 426.7 421.5 426.7 Z" fill="none" stroke="#a6a6a6" stroke-width="0.9" />
<line x1="416.6" y1="431.5" x2="452.8" y2="431.5" stroke="#a6a6a6" stroke-width="0.8"/>
<line x1="416.6" y1="528.5" x2="452.8" y2="528.5" stroke="#a6a6a6" stroke-width="0.8"/>
<line x1="416.6" y1="464.5" x2="446" y2="464.5" stroke="#a6a6a6" stroke-width="0.8"/>
<line x1="416.6" y1="497.5" x2="446" y2="497.5" stroke="#a6a6a6" stroke-width="0.8"/>
<rect x="446.5" y="433.5" width="6.0" height="29.0" rx="2.4" fill="none" stroke="#a6a6a6" stroke-width="0.8"/>
<rect x="446.5" y="466.5" width="6.0" height="29.0" rx="2.4" fill="none" stroke="#a6a6a6" stroke-width="0.8"/>
<rect x="446.5" y="498.5" width="6.0" height="30.0" rx="2.4" fill="none" stroke="#a6a6a6" stroke-width="0.8"/>
<line x1="436.5" y1="425.2" x2="436.5" y2="534.8" stroke="#a6a6a6" stroke-width="0.8"/>
<line x1="435.0" y1="424.9" x2="438.6" y2="428.5" stroke="#222" stroke-width="1.0"/>
<line x1="435.0" y1="531.5" x2="438.6" y2="535.0999999999999" stroke="#222" stroke-width="1.0"/>
<text transform="translate(430.8 480.8) rotate(-90) scale(0.685 1)" text-anchor="middle" font-size="13" dy="0.36em" fill="#111">2500</text>
<line x1="414.6" y1="524.5" x2="454.8" y2="524.5" stroke="#a6a6a6" stroke-width="0.8"/>
<line x1="414.8" y1="526.5" x2="418.40000000000003" y2="522.9000000000001" stroke="#222" stroke-width="1.0"/>
<line x1="451.0" y1="526.5" x2="454.6" y2="522.9000000000001" stroke="#222" stroke-width="1.0"/>
<text transform="translate(436 517.9) rotate(0) scale(0.685 1)" text-anchor="middle" font-size="13" dy="0.36em" fill="#111">770</text>
<line x1="437.5" y1="524.7" x2="437.5" y2="536" stroke="#a6a6a6" stroke-width="0.8"/>
<rect x="344.5" y="454.5" width="33.0" height="56.0" rx="0" fill="none" stroke="#a6a6a6" stroke-width="1"/>
<rect x="345.5" y="455.5" width="31.0" height="54.0" rx="0" fill="none" stroke="#a6a6a6" stroke-width="0.7"/>
<line x1="357.5" y1="453.2" x2="357.5" y2="512.2" stroke="#a6a6a6" stroke-width="0.8"/>
<line x1="355.5" y1="452.9" x2="359.1" y2="456.5" stroke="#222" stroke-width="1.0"/>
<line x1="355.5" y1="508.9" x2="359.1" y2="512.5" stroke="#222" stroke-width="1.0"/>
<text transform="translate(351.6 482.2) rotate(-90) scale(0.685 1)" text-anchor="middle" font-size="13" dy="0.36em" fill="#111">1300</text>
<text transform="translate(361.4 496.6) rotate(0) scale(0.685 1)" text-anchor="middle" font-size="13" dy="0.36em" fill="#111">700</text>
<line x1="342.5" y1="503.5" x2="379.3" y2="503.5" stroke="#a6a6a6" stroke-width="0.8"/>
<line x1="342.7" y1="505.0" x2="346.3" y2="501.4" stroke="#222" stroke-width="1.0"/>
<line x1="375.5" y1="505.0" x2="379.1" y2="501.4" stroke="#222" stroke-width="1.0"/>
<g transform="translate(372.8 438) rotate(33.2)" fill="none" stroke="#8c8c8c" stroke-width="0.9"><path d="M-15.9 0 C-17.5 -5 -19 -12 -19 -18 C-19 -39.3 19 -39.3 19 -18 C19 -12 17.5 -5 15.9 0 Z"/><path d="M-12.6 0 C-14.2 -5 -15.6 -12 -15.6 -18 C-15.6 -35.5 15.6 -35.5 15.6 -18 C15.6 -12 14.2 -5 12.6 0"/></g>
<rect x="331.5" y="556.5" width="76.0" height="16.0" rx="0" fill="none" stroke="#a6a6a6" stroke-width="0.9"/>
<line x1="320.3" y1="564.5" x2="429" y2="564.5" stroke="#555" stroke-width="0.8"/>
<line x1="425.5" y1="537.2" x2="425.5" y2="563.9" stroke="#a6a6a6" stroke-width="0.8"/>
<line x1="423.2" y1="536.9000000000001" x2="426.8" y2="540.5" stroke="#222" stroke-width="1.0"/>
<line x1="423.2" y1="560.6" x2="426.8" y2="564.1999999999999" stroke="#222" stroke-width="1.0"/>
<text transform="translate(420 550) rotate(-90) scale(0.685 1)" text-anchor="middle" font-size="13" dy="0.36em" fill="#111">550</text>
<line x1="429.2" y1="571.5" x2="454.8" y2="571.5" stroke="#a6a6a6" stroke-width="0.8"/>
<line x1="428.9" y1="573.0999999999999" x2="432.5" y2="569.5" stroke="#222" stroke-width="1.0"/>
<line x1="451.5" y1="573.0999999999999" x2="455.1" y2="569.5" stroke="#222" stroke-width="1.0"/>
<text transform="translate(442 564.8) rotate(0) scale(0.685 1)" text-anchor="middle" font-size="13" dy="0.36em" fill="#111">500</text>
<line x1="430.5" y1="562.4" x2="430.5" y2="574" stroke="#a6a6a6" stroke-width="0.8"/>
<line x1="453.5" y1="562.4" x2="453.5" y2="574" stroke="#a6a6a6" stroke-width="0.8"/>
<line x1="422.5" y1="538.5" x2="430.7" y2="538.5" stroke="#a6a6a6" stroke-width="0.8"/>
<line x1="422.5" y1="562.5" x2="430.7" y2="562.5" stroke="#a6a6a6" stroke-width="0.8"/>
<rect x="278.5" y="435.5" width="16.0" height="103.0" rx="0" fill="none" stroke="#a6a6a6" stroke-width="0.9"/>
<line x1="296.5" y1="436" x2="296.5" y2="538.2" stroke="#a6a6a6" stroke-width="0.8"/>
<line x1="279.5" y1="435.2" x2="279.5" y2="538.2" stroke="#a6a6a6" stroke-width="0.6"/>
<line x1="278.5" y1="445.5" x2="294.7" y2="445.5" stroke="#a6a6a6" stroke-width="0.8"/>
<line x1="278.5" y1="527.5" x2="294.7" y2="527.5" stroke="#a6a6a6" stroke-width="0.8"/>
<line x1="279.5" y1="435.8" x2="290.8" y2="445" stroke="#8c8c8c" stroke-width="0.7"/>
<line x1="279.5" y1="445" x2="290.8" y2="435.8" stroke="#8c8c8c" stroke-width="0.7"/>
<line x1="279.5" y1="527.4" x2="290.8" y2="537.6" stroke="#8c8c8c" stroke-width="0.7"/>
<line x1="279.5" y1="537.6" x2="290.8" y2="527.4" stroke="#8c8c8c" stroke-width="0.7"/>
<line x1="291.5" y1="433.7" x2="291.5" y2="539.7" stroke="#a6a6a6" stroke-width="0.8"/>
<line x1="289.59999999999997" y1="433.4" x2="293.2" y2="437.0" stroke="#222" stroke-width="1.0"/>
<line x1="289.59999999999997" y1="536.4000000000001" x2="293.2" y2="540.0" stroke="#222" stroke-width="1.0"/>
<rect x="281.5" y="463.5" width="4.0" height="47.0" rx="0" fill="none" stroke="#a6a6a6" stroke-width="0.8"/>
<rect x="279.5" y="471.5" width="2.0" height="31.0" rx="0" fill="none" stroke="#a6a6a6" stroke-width="0.7"/>
<text transform="translate(285.4 486.2) rotate(-90) scale(0.685 1)" text-anchor="middle" font-size="13" dy="0.36em" fill="#111">2400</text>
<rect x="132.5" y="373.5" width="88.0" height="24.0" rx="0" fill="none" stroke="#a6a6a6" stroke-width="1"/>
<rect x="133.5" y="374.5" width="86.0" height="22.0" rx="0" fill="none" stroke="#a6a6a6" stroke-width="0.8"/>
<line x1="133.6" y1="374.1" x2="176.2" y2="396.8" stroke="#8c8c8c" stroke-width="0.7"/>
<line x1="133.6" y1="396.8" x2="176.2" y2="374.1" stroke="#8c8c8c" stroke-width="0.7"/>
<line x1="176.2" y1="374.1" x2="219.4" y2="396.8" stroke="#8c8c8c" stroke-width="0.7"/>
<line x1="176.2" y1="396.8" x2="219.4" y2="374.1" stroke="#8c8c8c" stroke-width="0.7"/>
<line x1="176.5" y1="374" x2="176.5" y2="397" stroke="#a6a6a6" stroke-width="0.7"/>
<line x1="147.5" y1="371.5" x2="147.5" y2="399.4" stroke="#a6a6a6" stroke-width="0.8"/>
<line x1="145.6" y1="371.2" x2="149.20000000000002" y2="374.8" stroke="#222" stroke-width="1.0"/>
<line x1="145.6" y1="396.09999999999997" x2="149.20000000000002" y2="399.7" stroke="#222" stroke-width="1.0"/>
<line x1="131.0" y1="382.5" x2="222.0" y2="382.5" stroke="#a6a6a6" stroke-width="0.8"/>
<line x1="130.7" y1="383.90000000000003" x2="134.3" y2="380.3" stroke="#222" stroke-width="1.0"/>
<line x1="218.7" y1="383.90000000000003" x2="222.3" y2="380.3" stroke="#222" stroke-width="1.0"/>
<text transform="translate(176.3 377) rotate(0) scale(0.685 1)" text-anchor="middle" font-size="13" dy="0.36em" fill="#111">1930</text>
<text transform="translate(142.1 386) rotate(-90) scale(0.685 1)" text-anchor="middle" font-size="13" dy="0.36em" fill="#111">600</text>
<rect x="132.5" y="398.5" width="25.0" height="55.0" rx="0" fill="none" stroke="#a6a6a6" stroke-width="1"/>
<line x1="133.5" y1="398.7" x2="133.5" y2="453.3" stroke="#a6a6a6" stroke-width="0.8"/>
<line x1="156.5" y1="398.7" x2="156.5" y2="453.3" stroke="#a6a6a6" stroke-width="0.8"/>
<line x1="143.5" y1="397.2" x2="143.5" y2="454.8" stroke="#a6a6a6" stroke-width="0.8"/>
<line x1="141.39999999999998" y1="396.9" x2="145.0" y2="400.5" stroke="#222" stroke-width="1.0"/>
<line x1="141.39999999999998" y1="451.5" x2="145.0" y2="455.1" stroke="#222" stroke-width="1.0"/>
<line x1="131.0" y1="445.5" x2="158.8" y2="445.5" stroke="#a6a6a6" stroke-width="0.8"/>
<line x1="130.7" y1="447.2" x2="134.3" y2="443.59999999999997" stroke="#222" stroke-width="1.0"/>
<line x1="155.5" y1="447.2" x2="159.10000000000002" y2="443.59999999999997" stroke="#222" stroke-width="1.0"/>
<text transform="translate(137.2 425) rotate(-90) scale(0.685 1)" text-anchor="middle" font-size="13" dy="0.36em" fill="#111">1276</text>
<text transform="translate(145 438.6) rotate(0) scale(0.685 1)" text-anchor="middle" font-size="13" dy="0.36em" fill="#111">550</text>
<line x1="132.5" y1="453.5" x2="267.6" y2="453.5" stroke="#a6a6a6" stroke-width="1"/>
<line x1="132.5" y1="516.5" x2="267.6" y2="516.5" stroke="#a6a6a6" stroke-width="1"/>
<line x1="143.5" y1="451.8" x2="143.5" y2="517.9" stroke="#a6a6a6" stroke-width="0.8"/>
<line x1="141.79999999999998" y1="451.5" x2="145.4" y2="455.1" stroke="#222" stroke-width="1.0"/>
<line x1="141.79999999999998" y1="514.6" x2="145.4" y2="518.1999999999999" stroke="#222" stroke-width="1.0"/>
<text transform="translate(137.8 484.4) rotate(-90) scale(0.685 1)" text-anchor="middle" font-size="13" dy="0.36em" fill="#111">1444</text>
<rect x="146.5" y="468.5" width="14.0" height="34.0" rx="0" fill="none" stroke="#a6a6a6" stroke-width="0.9"/>
<line x1="156.5" y1="516.4" x2="156.5" y2="533.2" stroke="#a6a6a6" stroke-width="0.8"/>
<line x1="233.5" y1="516.4" x2="233.5" y2="533.2" stroke="#a6a6a6" stroke-width="0.8"/>
<line x1="170.5" y1="514.9" x2="170.5" y2="534.7" stroke="#a6a6a6" stroke-width="0.8"/>
<line x1="169.0" y1="514.6" x2="172.60000000000002" y2="518.1999999999999" stroke="#222" stroke-width="1.0"/>
<line x1="169.0" y1="531.4000000000001" x2="172.60000000000002" y2="535.0" stroke="#222" stroke-width="1.0"/>
<line x1="131.0" y1="527.5" x2="157.5" y2="527.5" stroke="#a6a6a6" stroke-width="0.8"/>
<line x1="130.7" y1="529.5999999999999" x2="134.3" y2="526.0" stroke="#222" stroke-width="1.0"/>
<line x1="154.2" y1="529.5999999999999" x2="157.8" y2="526.0" stroke="#222" stroke-width="1.0"/>
<line x1="232.3" y1="527.5" x2="269.1" y2="527.5" stroke="#a6a6a6" stroke-width="0.8"/>
<line x1="232.0" y1="529.5999999999999" x2="235.60000000000002" y2="526.0" stroke="#222" stroke-width="1.0"/>
<line x1="265.8" y1="529.5999999999999" x2="269.40000000000003" y2="526.0" stroke="#222" stroke-width="1.0"/>
<text transform="translate(144 522.3) rotate(0) scale(0.685 1)" text-anchor="middle" font-size="13" dy="0.36em" fill="#111">517</text>
<text transform="translate(164.9 524.2) rotate(-90) scale(0.685 1)" text-anchor="middle" font-size="13" dy="0.36em" fill="#111">400</text>
<text transform="translate(250 521.8) rotate(0) scale(0.685 1)" text-anchor="middle" font-size="13" dy="0.36em" fill="#111">743</text>
<rect x="551.5" y="384.5" width="71.0" height="25.0" rx="0" fill="none" stroke="#a6a6a6" stroke-width="1"/>
<rect x="552.5" y="385.5" width="69.0" height="23.0" rx="0" fill="none" stroke="#a6a6a6" stroke-width="0.8"/>
<line x1="527" y1="384.4" x2="551.3" y2="409.7" stroke="#8c8c8c" stroke-width="0.7"/>
<line x1="551.8" y1="409" x2="587" y2="385.5" stroke="#8c8c8c" stroke-width="0.7"/>
<line x1="587" y1="385.5" x2="622.3" y2="409" stroke="#8c8c8c" stroke-width="0.7"/>
<line x1="525.5" y1="395.5" x2="625.0" y2="395.5" stroke="#a6a6a6" stroke-width="0.8"/>
<line x1="525.2" y1="397.7" x2="528.8" y2="394.09999999999997" stroke="#222" stroke-width="1.0"/>
<line x1="549.5" y1="397.7" x2="553.0999999999999" y2="394.09999999999997" stroke="#222" stroke-width="1.0"/>
<line x1="621.7" y1="397.7" x2="625.3" y2="394.09999999999997" stroke="#222" stroke-width="1.0"/>
<line x1="563.5" y1="383.1" x2="563.5" y2="411.3" stroke="#a6a6a6" stroke-width="0.8"/>
<line x1="561.5" y1="382.8" x2="565.0999999999999" y2="386.40000000000003" stroke="#222" stroke-width="1.0"/>
<line x1="561.5" y1="408.0" x2="565.0999999999999" y2="411.6" stroke="#222" stroke-width="1.0"/>
<text transform="translate(538.8 389.7) rotate(0) scale(0.685 1)" text-anchor="middle" font-size="13" dy="0.36em" fill="#111">524</text>
<text transform="translate(587.2 389.2) rotate(0) scale(0.685 1)" text-anchor="middle" font-size="13" dy="0.36em" fill="#111">1582</text>
<text transform="translate(556.8 396.8) rotate(-90) scale(0.685 1)" text-anchor="middle" font-size="13" dy="0.36em" fill="#111">600</text>
<line x1="600.4" y1="417.5" x2="625.5" y2="417.5" stroke="#a6a6a6" stroke-width="0.8"/>
<line x1="600.6" y1="419.0" x2="604.1999999999999" y2="415.4" stroke="#222" stroke-width="1.0"/>
<line x1="621.7" y1="419.0" x2="625.3" y2="415.4" stroke="#222" stroke-width="1.0"/>
<text transform="translate(612.6 410.8) rotate(0) scale(0.685 1)" text-anchor="middle" font-size="13" dy="0.36em" fill="#111">450</text>
<line x1="596.5" y1="418.2" x2="596.5" y2="442.9" stroke="#a6a6a6" stroke-width="0.8"/>
<line x1="594.9000000000001" y1="417.9" x2="598.5" y2="421.5" stroke="#222" stroke-width="1.0"/>
<line x1="594.9000000000001" y1="439.59999999999997" x2="598.5" y2="443.2" stroke="#222" stroke-width="1.0"/>
<text transform="translate(590.2 430.6) rotate(-90) scale(0.685 1)" text-anchor="middle" font-size="13" dy="0.36em" fill="#111">500</text>
<rect x="527.5" y="441.5" width="96.0" height="78.0" rx="0" fill="none" stroke="#a6a6a6" stroke-width="1"/>
<line x1="551.5" y1="439.9" x2="551.5" y2="520.5" stroke="#a6a6a6" stroke-width="0.8"/>
<line x1="549.4000000000001" y1="439.59999999999997" x2="553.0" y2="443.2" stroke="#222" stroke-width="1.0"/>
<line x1="549.4000000000001" y1="517.2" x2="553.0" y2="520.8" stroke="#222" stroke-width="1.0"/>
<line x1="581.5" y1="441.4" x2="581.5" y2="519" stroke="#a6a6a6" stroke-width="0.8"/>
<line x1="583.5" y1="441.4" x2="583.5" y2="519" stroke="#a6a6a6" stroke-width="0.8"/>
<line x1="587.5" y1="441.4" x2="587.5" y2="519" stroke="#a6a6a6" stroke-width="0.8"/>
<line x1="527" y1="478.5" x2="581.1" y2="478.5" stroke="#a6a6a6" stroke-width="0.8"/>
<line x1="527" y1="481.5" x2="581.1" y2="481.5" stroke="#a6a6a6" stroke-width="0.8"/>
<text transform="translate(544.9 480) rotate(-90) scale(0.685 1)" text-anchor="middle" font-size="13" dy="0.36em" fill="#111">1800</text>
<line x1="525.5" y1="510.5" x2="625.0" y2="510.5" stroke="#a6a6a6" stroke-width="0.8"/>
<line x1="525.2" y1="512.1999999999999" x2="528.8" y2="508.59999999999997" stroke="#222" stroke-width="1.0"/>
<line x1="621.7" y1="512.1999999999999" x2="625.3" y2="508.59999999999997" stroke="#222" stroke-width="1.0"/>
<text transform="translate(575.2 503.7) rotate(0) scale(0.685 1)" text-anchor="middle" font-size="13" dy="0.36em" fill="#111">2100</text>
<rect x="599.5" y="450.5" width="19.0" height="28.0" rx="1" fill="none" stroke="#a6a6a6" stroke-width="0.9"/>
<rect x="600.5" y="451.5" width="17.0" height="25.0" rx="0.8" fill="none" stroke="#a6a6a6" stroke-width="0.7"/>
<rect x="599.5" y="482.5" width="19.0" height="28.0" rx="1" fill="none" stroke="#a6a6a6" stroke-width="0.9"/>
<rect x="600.5" y="483.5" width="17.0" height="26.0" rx="0.8" fill="none" stroke="#a6a6a6" stroke-width="0.7"/>
</svg>
</body></html>
